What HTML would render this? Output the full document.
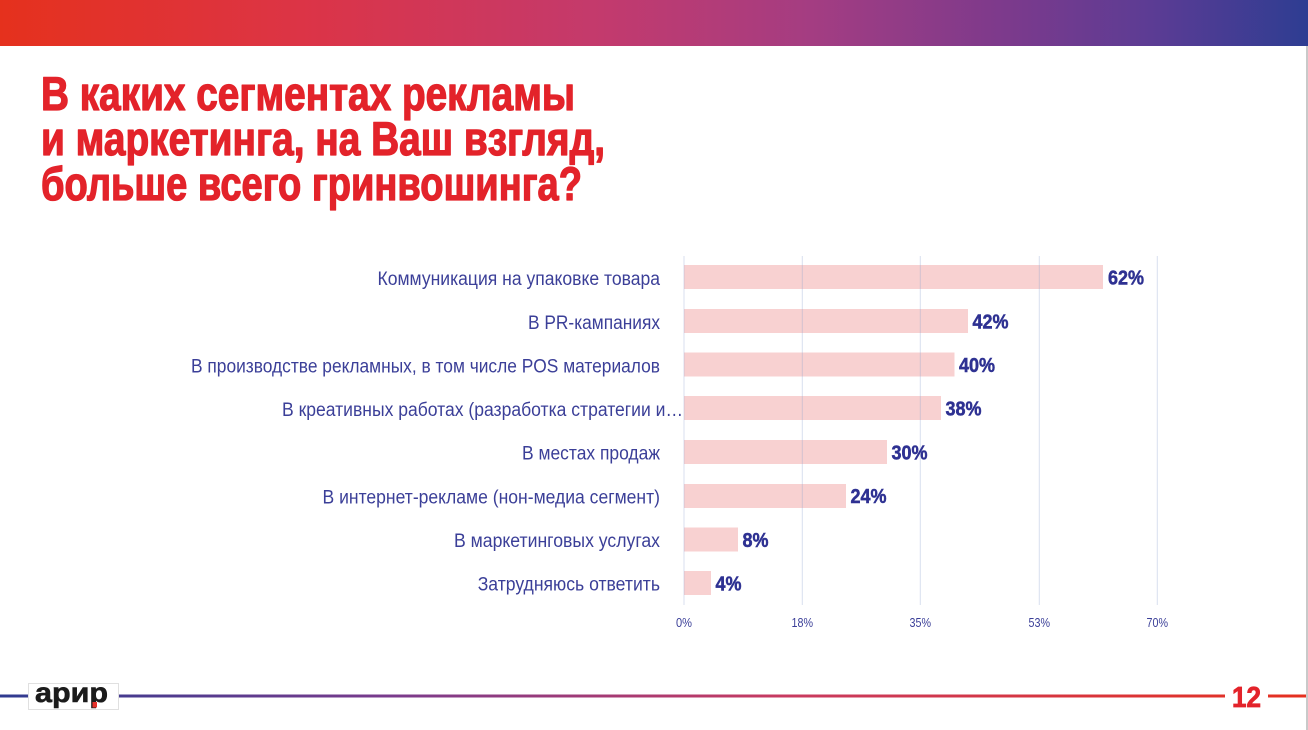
<!DOCTYPE html>
<html>
<head>
<meta charset="utf-8">
<style>
html,body{margin:0;padding:0;background:#fff;}
svg{display:block;}
</style>
</head>
<body>
<svg width="1308" height="730" viewBox="0 0 1308 730" xmlns="http://www.w3.org/2000/svg">
<defs>
<linearGradient id="top" x1="0" y1="0" x2="1308" y2="0" gradientUnits="userSpaceOnUse">
<stop offset="0" stop-color="#e5311d"/>
<stop offset="0.23" stop-color="#dc3446"/>
<stop offset="0.46" stop-color="#c33a6d"/>
<stop offset="0.62" stop-color="#a43d82"/>
<stop offset="0.77" stop-color="#7c3a8c"/>
<stop offset="0.88" stop-color="#5c3c94"/>
<stop offset="1" stop-color="#2e3d92"/>
</linearGradient>
<linearGradient id="foot" x1="0" y1="0" x2="1308" y2="0" gradientUnits="userSpaceOnUse">
<stop offset="0" stop-color="#2f3b90"/>
<stop offset="0.3" stop-color="#7a3b8c"/>
<stop offset="0.6" stop-color="#c83a60"/>
<stop offset="1" stop-color="#e5301f"/>
</linearGradient>
</defs>

<!-- top gradient band -->
<rect x="0" y="0" width="1308" height="46" fill="url(#top)"/>
<!-- right edge gray line -->
<rect x="1306" y="46" width="2" height="684" fill="#c9c9c9"/>

<!-- title -->
<g font-family="'Liberation Sans Narrow','Liberation Sans',sans-serif" font-weight="bold" font-size="47" fill="#e3232a" stroke="#e3232a" stroke-width="1.3" stroke-linejoin="round">
<text x="41" y="110" textLength="534" lengthAdjust="spacingAndGlyphs">В каких сегментах рекламы</text>
<text x="41" y="155" textLength="564" lengthAdjust="spacingAndGlyphs">и маркетинга, на Ваш взгляд,</text>
<text x="41" y="200" textLength="541" lengthAdjust="spacingAndGlyphs">больше всего гринвошинга?</text>
</g>

<!-- bars -->
<g fill="#f8d1d1">
<rect x="684" y="265" width="419" height="24"/>
<rect x="684" y="309" width="284" height="24"/>
<rect x="684" y="352.5" width="270.5" height="24"/>
<rect x="684" y="396" width="257" height="24"/>
<rect x="684" y="440" width="203" height="24"/>
<rect x="684" y="484" width="162" height="24"/>
<rect x="684" y="527.5" width="54" height="24"/>
<rect x="684" y="571" width="27" height="24"/>
</g>

<!-- gridlines -->
<g stroke="#8ea4d0" stroke-opacity="0.35" stroke-width="1">
<line x1="684" y1="256" x2="684" y2="605"/>
<line x1="802.3" y1="256" x2="802.3" y2="605"/>
<line x1="920.3" y1="256" x2="920.3" y2="605"/>
<line x1="1039.3" y1="256" x2="1039.3" y2="605"/>
<line x1="1157.3" y1="256" x2="1157.3" y2="605"/>
</g>

<!-- category labels -->
<g font-family="'Liberation Sans Narrow','Liberation Sans',sans-serif" font-size="19" fill="#3b3f98">
<text x="377.5" y="285" textLength="282.5" lengthAdjust="spacingAndGlyphs">Коммуникация на упаковке товара</text>
<text x="528" y="329" textLength="132" lengthAdjust="spacingAndGlyphs">В PR-кампаниях</text>
<text x="191" y="372.5" textLength="469" lengthAdjust="spacingAndGlyphs">В производстве рекламных, в том числе POS материалов</text>
<text x="282" y="416" textLength="401" lengthAdjust="spacingAndGlyphs">В креативных работах (разработка стратегии и…</text>
<text x="522" y="459.5" textLength="138" lengthAdjust="spacingAndGlyphs">В местах продаж</text>
<text x="322.5" y="503.5" textLength="337.5" lengthAdjust="spacingAndGlyphs">В интернет-рекламе (нон-медиа сегмент)</text>
<text x="454" y="547" textLength="206" lengthAdjust="spacingAndGlyphs">В маркетинговых услугах</text>
<text x="477.7" y="590.5" textLength="182.3" lengthAdjust="spacingAndGlyphs">Затрудняюсь ответить</text>
</g>

<!-- value labels -->
<g font-family="'Liberation Sans Narrow','Liberation Sans',sans-serif" font-weight="bold" font-size="20" fill="#2e3192" stroke="#2e3192" stroke-width="0.5">
<text x="1108" y="284.5" textLength="36" lengthAdjust="spacingAndGlyphs">62%</text>
<text x="972.5" y="328.5" textLength="36" lengthAdjust="spacingAndGlyphs">42%</text>
<text x="959" y="372" textLength="36" lengthAdjust="spacingAndGlyphs">40%</text>
<text x="945.5" y="415.5" textLength="36" lengthAdjust="spacingAndGlyphs">38%</text>
<text x="891.5" y="459.5" textLength="36" lengthAdjust="spacingAndGlyphs">30%</text>
<text x="850.5" y="503" textLength="36" lengthAdjust="spacingAndGlyphs">24%</text>
<text x="742.5" y="547" textLength="26" lengthAdjust="spacingAndGlyphs">8%</text>
<text x="715.5" y="590.5" textLength="26" lengthAdjust="spacingAndGlyphs">4%</text>
</g>

<!-- tick labels -->
<g font-family="'Liberation Sans Narrow','Liberation Sans',sans-serif" font-size="13" fill="#3b3f98">
<text x="676" y="627" textLength="16" lengthAdjust="spacingAndGlyphs">0%</text>
<text x="791.5" y="627" textLength="21.5" lengthAdjust="spacingAndGlyphs">18%</text>
<text x="909.5" y="627" textLength="21.5" lengthAdjust="spacingAndGlyphs">35%</text>
<text x="1028.5" y="627" textLength="21.5" lengthAdjust="spacingAndGlyphs">53%</text>
<text x="1146.5" y="627" textLength="21.5" lengthAdjust="spacingAndGlyphs">70%</text>
</g>

<!-- footer line -->
<g fill="url(#foot)">
<rect x="0" y="694.5" width="28" height="3"/>
<rect x="119" y="694.5" width="1106" height="3"/>
<rect x="1268" y="694.5" width="38" height="3"/>
</g>

<!-- logo -->
<rect x="28.5" y="683.5" width="90" height="26" fill="#fff" stroke="#e0e0e0" stroke-width="1"/>
<text x="35" y="702" font-family="'Liberation Sans',sans-serif" font-weight="bold" font-size="28" fill="#1b1b1b" stroke="#1b1b1b" stroke-width="0.6" textLength="73" lengthAdjust="spacingAndGlyphs">арир</text>
<rect x="92.5" y="702" width="4.5" height="5.5" fill="#e5302a"/>

<!-- page number -->
<text x="1232" y="707" font-family="'Liberation Sans Narrow','Liberation Sans',sans-serif" font-weight="bold" font-size="29" fill="#e3232a" stroke="#e3232a" stroke-width="0.8" textLength="29" lengthAdjust="spacingAndGlyphs">12</text>
</svg>
</body>
</html>
